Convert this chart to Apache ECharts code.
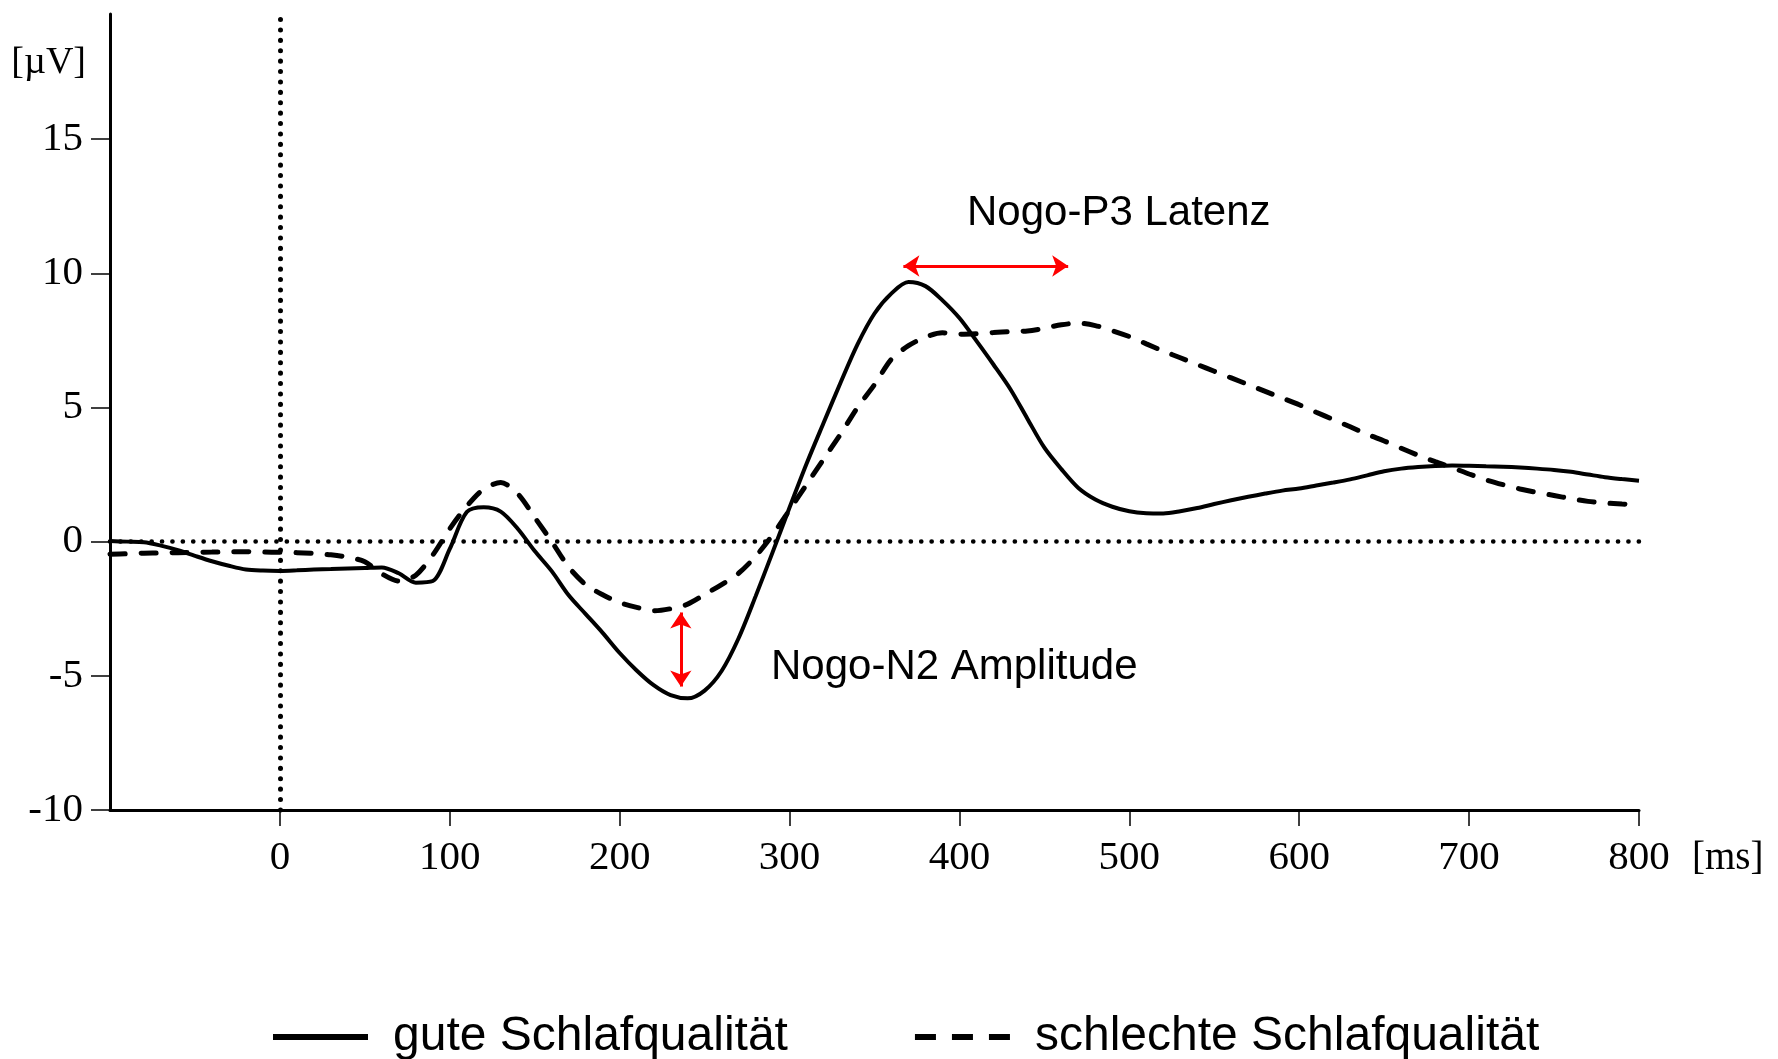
<!DOCTYPE html>
<html>
<head>
<meta charset="utf-8">
<script src="https://cdn.jsdelivr.net/npm/echarts@6/dist/echarts.min.js"></script>
<style>
  html, body { margin: 0; padding: 0; background: #fff; }
  #main { width: 1778px; height: 1059px; }
</style>
</head>
<body>
<div id="main"></div>
<script>
// time points (ms)
var times = [-100, -90, -80, -70, -60, -50, -40, -30, -20, -10,
  0, 10, 20, 30, 40, 50, 60, 70, 80, 90,
  100, 110, 120, 130, 140, 150, 160, 170, 180, 190,
  200, 210, 220, 230, 240, 250, 260, 270, 280, 290,
  300, 310, 320, 330, 340, 350, 360, 370, 380, 390,
  400, 410, 420, 430, 440, 450, 460, 470, 480, 490,
  500, 510, 520, 530, 540, 550, 560, 570, 580, 590,
  600, 610, 620, 630, 640, 650, 660, 670, 680, 690,
  700, 710, 720, 730, 740, 750, 760, 770, 780, 790,
  800];

// gute Schlafqualitaet (µV)
var gute = [0.02, 0.0, -0.02, -0.15, -0.32, -0.53, -0.73, -0.9, -1.04, -1.08,
  -1.09, -1.07, -1.04, -1.02, -1.0, -0.98, -0.96, -1.18, -1.53, -1.47,
  -0.27, 1.1, 1.28, 1.12, 0.48, -0.35, -1.1, -2.0, -2.7, -3.4,
  -4.15, -4.8, -5.35, -5.72, -5.84, -5.55, -4.82, -3.6, -2.04, -0.4,
  1.27, 2.9, 4.42, 5.92, 7.35, 8.5, 9.25, 9.67, 9.52, 8.99,
  8.33, 7.48, 6.6, 5.68, 4.58, 3.5, 2.7, 2.0, 1.57, 1.3,
  1.13, 1.06, 1.05, 1.13, 1.25, 1.4, 1.54, 1.67, 1.79, 1.9,
  1.98, 2.09, 2.2, 2.32, 2.47, 2.62, 2.72, 2.78, 2.82, 2.84,
  2.83, 2.81, 2.79, 2.76, 2.72, 2.67, 2.6, 2.5, 2.4, 2.33,
  2.27];

// schlechte Schlafqualitaet (µV)
var schlechte = [-0.47, -0.45, -0.43, -0.42, -0.41, -0.4, -0.39, -0.38, -0.38, -0.39,
  -0.4, -0.41, -0.44, -0.49, -0.58, -0.75, -1.2, -1.47, -1.25, -0.5,
  0.48, 1.32, 1.96, 2.2, 1.78, 0.9, 0.0, -0.95, -1.6, -1.98,
  -2.27, -2.45, -2.58, -2.5, -2.33, -1.97, -1.6, -1.18, -0.55, 0.25,
  1.18, 2.13, 3.07, 4.0, 5.0, 5.85, 6.8, 7.3, 7.62, 7.78,
  7.73, 7.75, 7.79, 7.83, 7.85, 7.95, 8.08, 8.14, 8.05, 7.86,
  7.64, 7.37, 7.1, 6.85, 6.6, 6.35, 6.1, 5.85, 5.6, 5.35,
  5.1, 4.82, 4.55, 4.28, 4.0, 3.75, 3.48, 3.22, 2.98, 2.76,
  2.52, 2.3, 2.12, 1.96, 1.83, 1.72, 1.6, 1.5, 1.44, 1.4,
  1.37];

var xTicks = [0, 100, 200, 300, 400, 500, 600, 700, 800];
var yTicks = [-10, -5, 0, 5, 10, 15];

// annotation arrows: [t, µV] end points
var p3Arrow = [[367, 10.27], [464, 10.27]];
var n2Arrow = [[236, -2.64], [236, -5.4]];

var serif = '"Liberation Serif", "Times New Roman", serif';
var sans = '"Liberation Sans", Arial, sans-serif';
var yMax = 19.66;

var chart = echarts.init(document.getElementById('main'));

function pairs(vals) {
  return times.map(function (t, i) { return [t, vals[i]]; });
}

var red = { color: '#ff0000', width: 3, type: 'solid' };

var option = {
  animation: false,
  backgroundColor: '#fff',
  grid: { left: 110, right: 139, top: 14, bottom: 249 },
  xAxis: {
    type: 'value',
    min: -100,
    max: 800,
    name: '[ms]',
    nameLocation: 'end',
    nameGap: 53,
    nameTextStyle: {
      fontFamily: serif, fontSize: 39, color: '#000',
      verticalAlign: 'top', padding: [29, 0, 0, 0]
    },
    axisLine: { onZero: false, lineStyle: { color: '#000', width: 3 } },
    axisTick: { customValues: xTicks, length: 16, lineStyle: { color: '#000', width: 1.5 } },
    axisLabel: { customValues: xTicks, margin: 28, fontFamily: serif, fontSize: 41, color: '#000' },
    splitLine: { show: false }
  },
  yAxis: {
    type: 'value',
    min: -10,
    max: yMax,
    name: '[µV]',
    nameLocation: 'end',
    nameGap: 0,
    nameTextStyle: {
      fontFamily: serif, fontSize: 38, color: '#000',
      align: 'right', verticalAlign: 'top', padding: [30, 24, 0, 0]
    },
    axisLine: { onZero: false, lineStyle: { color: '#000', width: 3 } },
    axisTick: { customValues: yTicks, length: 19, lineStyle: { color: '#000', width: 1.5 } },
    axisLabel: {
      customValues: yTicks, margin: 27, fontFamily: serif, fontSize: 41, color: '#000',
      padding: [6, 0, 0, 0]
    },
    splitLine: { show: false }
  },
  legend: {
    left: 265,
    top: 1008,
    itemWidth: 95,
    itemHeight: 20,
    itemGap: 124,
    itemStyle: { opacity: 0 },
    textStyle: { fontFamily: sans, fontSize: 48, color: '#000', padding: [0, 0, 0, 20] },
    data: [
      { name: 'gute Schlafqualität', lineStyle: { width: 6 } },
      { name: 'schlechte Schlafqualität', lineStyle: { width: 6, type: [21, 16], cap: 'butt' } }
    ]
  },
  graphic: [
    {
      type: 'text', left: 967, top: 192,
      style: { text: 'Nogo-P3 Latenz', font: '42px ' + sans, fill: '#000' }
    },
    {
      type: 'text', left: 771, top: 646,
      style: { text: 'Nogo-N2 Amplitude', font: '42px ' + sans, fill: '#000' }
    }
  ],
  series: [
    {
      name: 'gute Schlafqualität',
      type: 'line',
      data: pairs(gute),
      smooth: 0.3,
      symbol: 'none',
      clip: false,
      z: 3,
      lineStyle: { color: '#000', width: 4 },
      itemStyle: { color: '#000' },
      markLine: {
        silent: true,
        symbol: 'none',
        label: { show: false },
        data: [
          [{ coord: [-100, 0], lineStyle: { color: '#000', width: 4.6, type: [0.1, 10.3], cap: 'round' } }, { coord: [800, 0] }],
          [{ coord: [0, -10], lineStyle: { color: '#000', width: 5, type: [0.1, 10.3], cap: 'round' } }, { coord: [0, yMax] }]
        ]
      }
    },
    {
      name: 'schlechte Schlafqualität',
      type: 'line',
      data: pairs(schlechte),
      smooth: 0.3,
      symbol: 'none',
      clip: false,
      z: 2,
      lineStyle: { color: '#000', width: 5, type: [15, 16], cap: 'round' },
      itemStyle: { color: '#000' },
      markLine: {
        silent: true,
        symbol: ['arrow', 'arrow'],
        symbolSize: [16, 16],
        label: { show: false },
        lineStyle: red,
        data: [
          [{ coord: p3Arrow[0] }, { coord: p3Arrow[1] }],
          [{ coord: n2Arrow[0] }, { coord: n2Arrow[1] }]
        ]
      }
    }
  ]
};

chart.setOption(option);
</script>
</body>
</html>
